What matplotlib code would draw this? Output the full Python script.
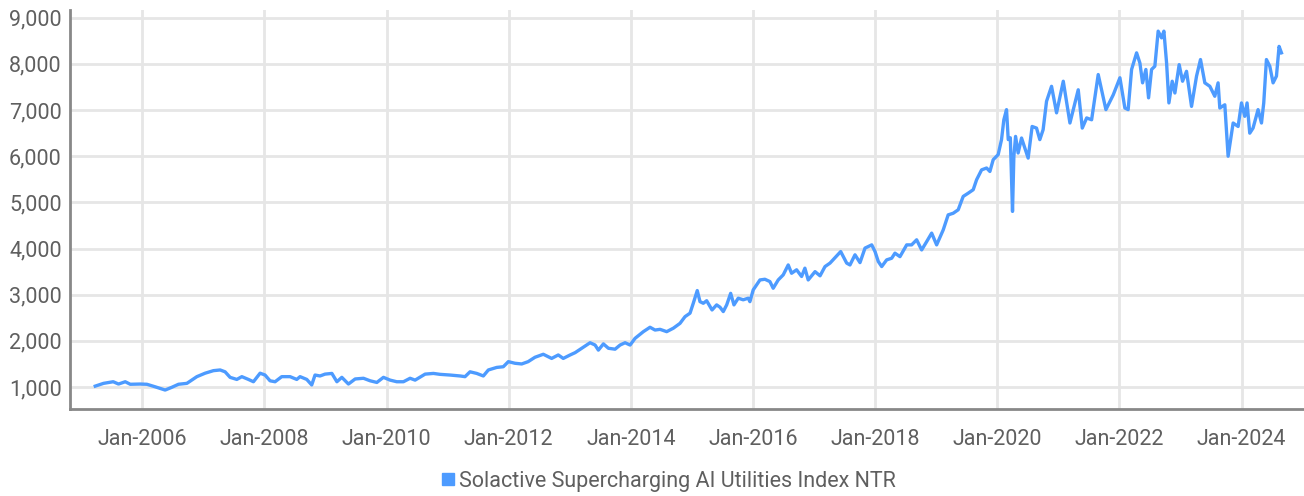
import datetime as dt
import matplotlib
matplotlib.use("Agg")
import matplotlib.pyplot as plt
import matplotlib.dates as mdates
from matplotlib.lines import Line2D
from matplotlib.ticker import FuncFormatter, MultipleLocator

# decimal year -> index level
years = [
    2005.231, 2005.367, 2005.525, 2005.612, 2005.722, 2005.804, 2005.967, 2006.077, 2006.213, 2006.376,
    2006.486, 2006.594, 2006.732, 2006.895, 2007.031, 2007.167, 2007.277, 2007.358, 2007.440, 2007.550,
    2007.632, 2007.740, 2007.822, 2007.931, 2008.013, 2008.095, 2008.177, 2008.286, 2008.422, 2008.532,
    2008.586, 2008.696, 2008.777, 2008.831, 2008.913, 2008.995, 2009.105, 2009.187, 2009.268, 2009.376,
    2009.486, 2009.622, 2009.732, 2009.841, 2009.949, 2010.059, 2010.168, 2010.277, 2010.386, 2010.468,
    2010.632, 2010.768, 2010.877, 2011.041, 2011.205, 2011.286, 2011.368, 2011.478, 2011.586, 2011.668,
    2011.805, 2011.913, 2011.995, 2012.105, 2012.214, 2012.320, 2012.432, 2012.568, 2012.705, 2012.813,
    2012.895, 2013.005, 2013.087, 2013.196, 2013.332, 2013.414, 2013.468, 2013.550, 2013.632, 2013.741,
    2013.823, 2013.905, 2013.987, 2014.069, 2014.205, 2014.314, 2014.396, 2014.478, 2014.587, 2014.696,
    2014.805, 2014.887, 2014.969, 2015.023, 2015.088, 2015.133, 2015.187, 2015.242, 2015.330, 2015.405,
    2015.460, 2015.514, 2015.570, 2015.635, 2015.689, 2015.759, 2015.841, 2015.923, 2015.950, 2016.005,
    2016.115, 2016.196, 2016.278, 2016.332, 2016.414, 2016.496, 2016.578, 2016.633, 2016.715, 2016.797,
    2016.851, 2016.905, 2017.015, 2017.097, 2017.178, 2017.260, 2017.370, 2017.435, 2017.533, 2017.587,
    2017.669, 2017.751, 2017.833, 2017.943, 2017.997, 2018.051, 2018.107, 2018.188, 2018.270, 2018.324,
    2018.406, 2018.516, 2018.597, 2018.679, 2018.761, 2018.843, 2018.925, 2019.007, 2019.115, 2019.196,
    2019.278, 2019.360, 2019.442, 2019.524, 2019.606, 2019.661, 2019.743, 2019.825, 2019.879, 2019.933,
    2020.015, 2020.070, 2020.108, 2020.152, 2020.180, 2020.214, 2020.250, 2020.272, 2020.300, 2020.342,
    2020.398, 2020.452, 2020.506, 2020.571, 2020.643, 2020.697, 2020.751, 2020.807, 2020.889, 2020.971,
    2021.079, 2021.188, 2021.324, 2021.390, 2021.462, 2021.543, 2021.651, 2021.777, 2021.897, 2022.007,
    2022.088, 2022.142, 2022.198, 2022.280, 2022.334, 2022.378, 2022.432, 2022.476, 2022.525, 2022.579,
    2022.633, 2022.689, 2022.727, 2022.771, 2022.809, 2022.863, 2022.907, 2022.977, 2023.033, 2023.098,
    2023.180, 2023.262, 2023.327, 2023.398, 2023.480, 2023.561, 2023.615, 2023.643, 2023.725, 2023.779,
    2023.861, 2023.943, 2023.998, 2024.052, 2024.090, 2024.134, 2024.188, 2024.270, 2024.326, 2024.363,
    2024.407, 2024.462, 2024.516, 2024.571, 2024.614, 2024.653,
]
values = [
    1020, 1080, 1115, 1065, 1115, 1060, 1065, 1060, 1005, 935,
    995, 1060, 1080, 1225, 1300, 1355, 1370, 1330, 1210, 1165,
    1225, 1165, 1115, 1300, 1260, 1135, 1115, 1225, 1225, 1165,
    1225, 1165, 1045, 1260, 1240, 1280, 1295, 1115, 1210, 1065,
    1175, 1190, 1135, 1100, 1210, 1150, 1115, 1115, 1190, 1150,
    1280, 1295, 1275, 1260, 1240, 1225, 1330, 1295, 1240, 1370,
    1425, 1440, 1550, 1515, 1500, 1550, 1645, 1710, 1620, 1695,
    1620, 1695, 1745, 1840, 1960, 1910, 1800, 1935, 1840, 1820,
    1910, 1960, 1910, 2055, 2200, 2295, 2235, 2250, 2200, 2275,
    2380, 2525, 2600, 2815, 3090, 2850, 2815, 2870, 2670, 2780,
    2730, 2635, 2780, 3030, 2780, 2925, 2890, 2925, 2850, 3105,
    3320, 3335, 3285, 3140, 3320, 3430, 3645, 3465, 3540, 3395,
    3575, 3320, 3500, 3410, 3610, 3685, 3840, 3935, 3685, 3645,
    3865, 3695, 4010, 4080, 3935, 3720, 3610, 3755, 3790, 3900,
    3825, 4080, 4080, 4190, 3970, 4150, 4335, 4080, 4405, 4730,
    4765, 4840, 5130, 5200, 5275, 5490, 5705, 5745, 5670, 5925,
    6035, 6360, 6790, 7010, 6360, 6400, 4805, 5995, 6430, 6070,
    6395, 6175, 5960, 6645, 6610, 6360, 6575, 7190, 7515, 6940,
    7625, 6720, 7440, 6610, 6830, 6790, 7770, 7010, 7330, 7700,
    7045, 7010, 7880, 8240, 8020, 7590, 7880, 7265, 7880, 7950,
    8710, 8565, 8710, 8020, 7155, 7625, 7370, 7985, 7625, 7840,
    7080, 7735, 8095, 7590, 7515, 7300, 7590, 7045, 7115, 6000,
    6720, 6645, 7155, 6865, 7155, 6500, 6610, 7010, 6720, 7155,
    8095, 7950, 7590, 7735, 8380, 8240,
]
series_name = "Solactive Supercharging AI Utilities Index NTR"


def to_date(y):
    yr = int(y)
    return dt.datetime(yr, 1, 1) + dt.timedelta(days=(y - yr) * 365.25)


dates = [to_date(y) for y in years]

plt.rcParams["font.family"] = ["Roboto", "DejaVu Sans"]
line_color = "#4d9bff"
text_color = "#5f5f5f"

fig = plt.figure(figsize=(13.04, 4.96), dpi=100)
ax = fig.add_axes([0.0537, 0.175, 0.9463, 0.805])

ax.plot(dates, values, color=line_color, linewidth=2.4, solid_joinstyle="round")

ax.set_xlim(to_date(2004.82), to_date(2025.02))
ax.set_ylim(520, 9170)

ax.xaxis.set_major_locator(mdates.YearLocator(2))
ax.xaxis.set_major_formatter(mdates.DateFormatter("%b-%Y"))
ax.yaxis.set_major_locator(MultipleLocator(1000))
ax.yaxis.set_major_formatter(FuncFormatter(lambda v, p: f"{v:,.0f}" if v >= 1000 else ""))

ax.grid(True, color="#e6e6e6", linewidth=2)
ax.set_axisbelow(True)
for s in ["top", "right"]:
    ax.spines[s].set_visible(False)
for s in ["left", "bottom"]:
    ax.spines[s].set_color("#888888")
    ax.spines[s].set_linewidth(2)

ax.tick_params(axis="both", length=0, labelsize=15.5, colors=text_color)
ax.tick_params(axis="x", pad=14)
ax.tick_params(axis="y", pad=6)

handle = Line2D([], [], color=line_color, marker="s", linestyle="none", markersize=8)
fig.legend([handle], [series_name], loc="center", bbox_to_anchor=(0.512, 0.03),
           frameon=False, fontsize=15.5, labelcolor=text_color,
           handletextpad=0.1, handlelength=0.8)

fig.savefig("out.png", dpi=100)
